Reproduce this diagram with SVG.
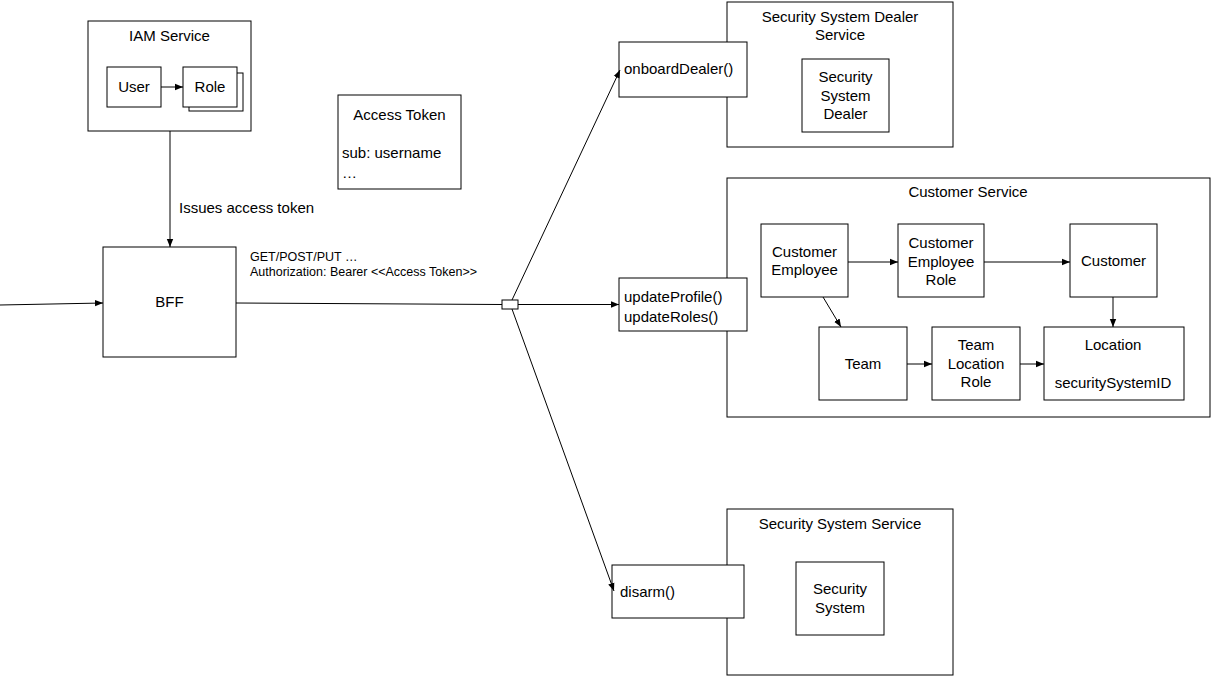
<svg xmlns="http://www.w3.org/2000/svg" width="1211" height="676" viewBox="0 0 1211 676">
<defs>
<marker id="a" viewBox="0 0 10 10" refX="10" refY="5" markerWidth="8" markerHeight="8" orient="auto" markerUnits="userSpaceOnUse"><path d="M0,1 L10,5 L0,9 Z" fill="#000"/></marker>
</defs>
<style>
rect{fill:#fff;stroke:#000;stroke-width:1}
text{font-family:"Liberation Sans",Arial,sans-serif;font-size:15px;fill:#000}
.c{text-anchor:middle}
.s{font-size:12.5px}
line{stroke:#000;stroke-width:1}
</style>
<rect x="0" y="0" width="1211" height="676" style="stroke:none"/>
<g id="iam"><rect x="88" y="21" width="163" height="110"/><text class="c" x="169.5" y="41">IAM Service</text></g>
<g id="user"><rect x="107" y="67" width="54" height="40"/><text class="c" x="134" y="92">User</text></g>
<g id="role"><rect x="189" y="73" width="54" height="38"/><rect x="183" y="67" width="54" height="40"/><text class="c" x="210" y="92">Role</text></g>
<g id="token"><rect x="338" y="95" width="123" height="94"/><text class="c" x="399.5" y="120">Access Token</text><text x="342" y="158">sub: username</text><text x="342" y="178">…</text></g>
<g id="bff"><rect x="103" y="247" width="133" height="110"/><text class="c" x="169.5" y="307">BFF</text></g>
<g id="junction"><rect x="502" y="300" width="16" height="9"/></g>
<g id="ssds"><rect x="727" y="2" width="226" height="145"/><text class="c" x="840" y="22">Security System Dealer</text><text class="c" x="840" y="40">Service</text></g>
<g id="ssd"><rect x="802" y="59" width="87" height="73"/><text class="c" x="845.5" y="82">Security</text><text class="c" x="845.5" y="101">System</text><text class="c" x="845.5" y="119">Dealer</text></g>
<g id="onboard"><rect x="619" y="42" width="128" height="55"/><text x="624" y="74">onboardDealer()</text></g>
<g id="cs"><rect x="727" y="178" width="483" height="239"/><text class="c" x="968" y="197">Customer Service</text></g>
<g id="update"><rect x="619" y="278" width="128" height="53"/><text x="624" y="302">updateProfile()</text><text x="624" y="322">updateRoles()</text></g>
<g id="ce"><rect x="761" y="224" width="87" height="73"/><text class="c" x="804.5" y="257">Customer</text><text class="c" x="804.5" y="275">Employee</text></g>
<g id="cer"><rect x="898" y="224" width="86" height="73"/><text class="c" x="941" y="248">Customer</text><text class="c" x="941" y="267">Employee</text><text class="c" x="941" y="285">Role</text></g>
<g id="customer"><rect x="1070" y="224" width="87" height="73"/><text class="c" x="1113.5" y="266">Customer</text></g>
<g id="team"><rect x="819" y="327" width="88" height="73"/><text class="c" x="863" y="369">Team</text></g>
<g id="tlr"><rect x="932" y="327" width="88" height="73"/><text class="c" x="976" y="350">Team</text><text class="c" x="976" y="369">Location</text><text class="c" x="976" y="387">Role</text></g>
<g id="location"><rect x="1044" y="327" width="140" height="73"/><text class="c" x="1113" y="350">Location</text><text class="c" x="1113" y="388">securitySystemID</text></g>
<g id="sss"><rect x="727" y="509" width="226" height="166"/><text class="c" x="840" y="529">Security System Service</text></g>
<g id="ss"><rect x="796" y="562" width="88" height="73"/><text class="c" x="840" y="594">Security</text><text class="c" x="840" y="613">System</text></g>
<g id="disarm"><rect x="612" y="565" width="132" height="53"/><text x="620" y="597">disarm()</text></g>
<g id="connectors">
<line x1="161" y1="87" x2="183" y2="87" marker-end="url(#a)"/>
<line x1="170" y1="131" x2="170" y2="247" marker-end="url(#a)"/>
<text x="179" y="213">Issues access token</text>
<line x1="0" y1="305" x2="103" y2="303" marker-end="url(#a)"/>
<line x1="236" y1="303" x2="502" y2="304.5"/>
<text class="s" x="250" y="261">GET/POST/PUT …</text>
<text class="s" x="250" y="276">Authorization: Bearer &lt;&lt;Access Token&gt;&gt;</text>
<line x1="512" y1="300" x2="620" y2="70" marker-end="url(#a)"/>
<line x1="518" y1="304.5" x2="619" y2="304.5" marker-end="url(#a)"/>
<line x1="512" y1="309" x2="614" y2="591" marker-end="url(#a)"/>
<line x1="848" y1="262" x2="898" y2="262" marker-end="url(#a)"/>
<line x1="984" y1="262" x2="1070" y2="262" marker-end="url(#a)"/>
<line x1="823" y1="297" x2="841" y2="327" marker-end="url(#a)"/>
<line x1="907" y1="364" x2="932" y2="364" marker-end="url(#a)"/>
<line x1="1020" y1="364" x2="1044" y2="364" marker-end="url(#a)"/>
<line x1="1113" y1="297" x2="1113" y2="327" marker-end="url(#a)"/>
</g>
</svg>
